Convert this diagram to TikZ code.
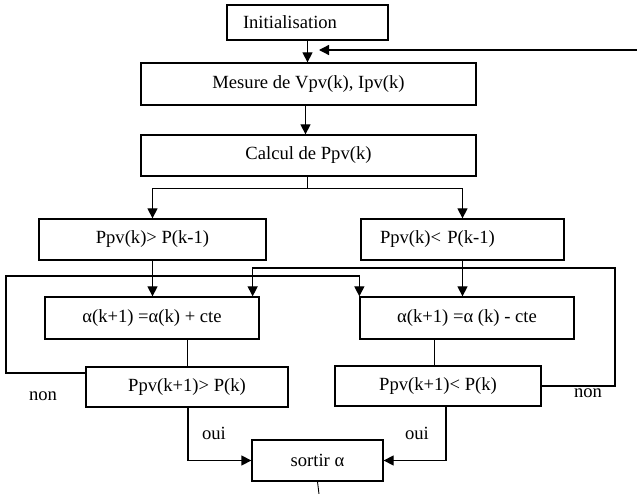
\documentclass[tikz,border=0pt]{standalone}
\usepackage{fontspec}
\setmainfont{Liberation Serif}
\usetikzlibrary{arrows.meta}
\begin{document}
\begin{tikzpicture}[x=1pt,y=-1pt,
  txt/.style={font=\fontsize{18.6}{22}\selectfont},
  box/.style={txt, draw, line width=1.3pt, inner sep=0pt},
  lbl/.style={txt, inner sep=0pt},
  conn/.style={line width=1.3pt},
  arr/.style={conn, -{Triangle[length=10pt,width=10pt]}},
  thinconn/.style={line width=0.9pt}]
\useasboundingbox (0,0) rectangle (637,494);
% boxes
\node[box, text width=129pt, inner xsep=16pt, align=left, minimum height=35pt] (init) at (307.5,22.5) {Initialisation};
\node[box, minimum width=335pt, minimum height=42pt] (mesure) at (308.5,84) {Mesure de Vpv(k), Ipv(k)};
\node[box, minimum width=335pt, minimum height=41pt] (calcul) at (308.5,155.5) {Calcul de Ppv(k)};
\node[box, minimum width=227pt, minimum height=41pt] (A) at (152.5,239.5) {Ppv(k)> P(k-1)};
\node[box, text width=165pt, inner xsep=19pt, align=left, minimum height=41pt] (B) at (462.5,239.5) {Ppv(k)< P(k-1)};
\node[box, minimum width=214pt, minimum height=42pt] (C) at (152,318) {α(k+1) =α(k) + cte};
\node[box, minimum width=214pt, minimum height=42pt] (D) at (467,318) {α(k+1) =α (k) - cte};
\node[box, minimum width=202pt, minimum height=40pt] (E) at (187,387) {Ppv(k+1)> P(k)};
\node[box, minimum width=206pt, minimum height=40pt] (F) at (438,386) {Ppv(k+1)< P(k)};
\node[box, minimum width=131pt, minimum height=41pt] (G) at (317.5,460.5) {sortir α};
% labels
\node[lbl] (non1) at (43,396) {non};
\node[lbl] (non2) at (588,393) {non};
\node[lbl] (oui1) at (214,433) {oui};
\node[lbl] (oui2) at (417,433) {oui};
% helper coordinates
\coordinate (fbstart) at (637,50);
\coordinate (fbend) at (319,50);
\coordinate (Lx) at (6,276);
\coordinate (Rx) at (615,268);
\coordinate (gend) at (319,494);
% connectors
\draw[arr] (init.south) -- (init.south |- mesure.north);
\draw[arr] (fbstart) -- (fbend);
\draw[arr] ([xshift=-3pt]mesure.south) -- ([xshift=-3pt]calcul.north);
\draw[conn] ([xshift=-1pt]calcul.south) -- ++(0,12) coordinate (br);
\draw[arr] (br) -| (A.north);
\draw[arr] (br) -| (B.north);
\draw[arr] (A.south) -- (A.south |- C.north);
\draw[arr] (B.south) -- (B.south |- D.north);
\draw[arr] ([yshift=14pt]E.west) -| (Lx) -| (D.north west);
\draw[arr] (F.east) -| (Rx) -| ([xshift=-7pt]C.north east);
\draw[thinconn] (C.south -| E.north) -- (E.north);
\draw[thinconn] ([xshift=-4pt]F.north) -- ([xshift=-4pt]F.north |- D.south);
\draw[arr] ([xshift=1pt]E.south) |- (G.west);
\draw[arr] ([xshift=8pt]F.south) |- (G.east);
\draw[thinconn] (G.south) -- (gend);
\end{tikzpicture}
\end{document}
